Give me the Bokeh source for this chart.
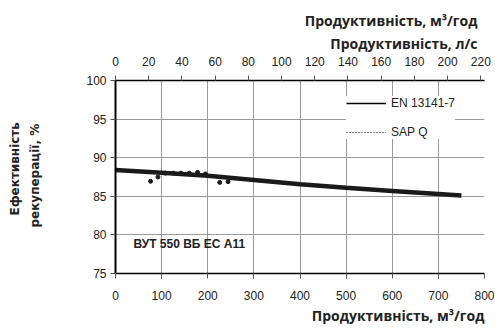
from bokeh.plotting import figure
from bokeh.models import (Range1d, LinearAxis, FixedTicker, Label, Legend, LegendItem, Title)
from bokeh.embed import file_html
from bokeh.resources import INLINE

# ---- data ----
en_flow = [0, 100, 200, 300, 400, 500, 600, 700, 750]
en_eff = [88.4, 88.05, 87.65, 87.1, 86.55, 86.1, 85.7, 85.3, 85.1]

sap_flow = [76, 92, 108, 125, 142, 160, 178, 195, 226, 244]
sap_eff = [86.95, 87.5, 88.0, 88.0, 88.0, 88.0, 88.1, 87.9, 86.8, 86.9]

x_ticks = [0, 100, 200, 300, 400, 500, 600, 700, 800]
y_ticks = [75, 80, 85, 90, 95, 100]
ls_ticks = [0, 20, 40, 60, 80, 100, 120, 140, 160, 180, 200, 220]

title_m3 = "Продуктивність, м³/год"
title_ls = "Продуктивність, л/с"
y_title_1 = "Ефективність"
y_title_2 = "рекуперації, %"
model_name = "ВУТ 550 ВБ ЕС А11"
series_names = ["EN 13141-7", "SAP Q"]

TICK_FONT = "Liberation Sans"
TEXT_COLOR = "#222222"

p = figure(width=495, height=329, output_backend="svg", toolbar_location=None,
           x_range=Range1d(0, 800), y_range=Range1d(75, 100),
           min_border_left=115, min_border_right=11, min_border_top=80, min_border_bottom=56)
p.outline_line_color = None
p.background_fill_color = "white"

# grid
p.xgrid.ticker = FixedTicker(ticks=x_ticks)
p.ygrid.ticker = FixedTicker(ticks=y_ticks)
for g in (p.xgrid, p.ygrid):
    g.grid_line_color = "#9a9a9a"
    g.grid_line_width = 1


def style_axis(ax, standoff, width):
    ax.minor_tick_line_color = None
    ax.major_tick_in = 0
    ax.major_tick_out = 5
    ax.axis_line_color = "black"
    ax.axis_line_width = width
    ax.major_tick_line_color = "#555555"
    ax.major_label_text_font = TICK_FONT
    ax.major_label_text_font_size = "12px"
    ax.major_label_text_color = TEXT_COLOR
    ax.major_label_standoff = standoff


xa = p.xaxis[0]
xa.ticker = FixedTicker(ticks=x_ticks)
style_axis(xa, 12, 1.5)

ya = p.yaxis[0]
ya.ticker = FixedTicker(ticks=y_ticks)
style_axis(ya, 4, 2)
# blank axis label used only as horizontal spacing before the y titles
ya.axis_label = " "
ya.axis_label_standoff = 24
ya.axis_label_text_font_size = "12px"

p.extra_x_ranges = {"ls": Range1d(0, 800 / 3.6)}
ta = LinearAxis(x_range_name="ls", ticker=FixedTicker(ticks=ls_ticks))
style_axis(ta, 10, 1.5)
p.add_layout(ta, "above")

# data
p.line(en_flow, en_eff, line_color="#1a1a1a", line_width=4.5)
p.scatter(sap_flow, sap_eff, size=4, color="#1a1a1a")

# legend proxies (thin styles as in the legend)
r_en = p.line(en_flow, en_eff, line_color="black", line_width=1.5, visible=False)
r_sap = p.line(sap_flow, sap_eff, line_color="black", line_width=1, line_dash="1 2", visible=False)
legend = Legend(items=[LegendItem(label=series_names[0], renderers=[r_en]),
                       LegendItem(label=series_names[1], renderers=[r_sap])],
                location=(231, 134), orientation="vertical",
                glyph_width=40, glyph_height=12, label_height=12, label_width=20,
                label_standoff=5, spacing=15, padding=6, margin=0,
                border_line_color=None, background_fill_color="white", background_fill_alpha=1,
                label_text_font=TICK_FONT, label_text_font_size="12px", label_text_color=TEXT_COLOR)
p.add_layout(legend, "center")

# axis titles
p.add_layout(Title(text=title_ls, align="right", offset=7, standoff=1,
                   text_font="Open Sans", text_font_style="bold", text_font_size="14px",
                   text_color=TEXT_COLOR), "above")
p.add_layout(Title(text=title_m3, align="right", offset=7, standoff=3,
                   text_font="Open Sans", text_font_style="bold", text_font_size="14px",
                   text_color=TEXT_COLOR), "above")
p.add_layout(Title(text=title_m3, align="right", offset=0, standoff=2,
                   text_font="Open Sans", text_font_style="bold", text_font_size="14px",
                   text_color=TEXT_COLOR), "below")
p.add_layout(Title(text=y_title_2, align="left", offset=46, standoff=2,
                   text_font="DejaVu Sans", text_font_style="bold", text_font_size="12px",
                   text_color=TEXT_COLOR), "left")
p.add_layout(Title(text=y_title_1, align="left", offset=58, standoff=6,
                   text_font="DejaVu Sans", text_font_style="bold", text_font_size="12px",
                   text_color=TEXT_COLOR), "left")

# model label inside the frame
p.add_layout(Label(x=39, y=78.87, text=model_name, text_align="left", text_baseline="middle",
                   text_font="Liberation Sans", text_font_style="bold", text_font_size="12px",
                   text_color=TEXT_COLOR))

open("out.html", "w").write(file_html(p, INLINE))
